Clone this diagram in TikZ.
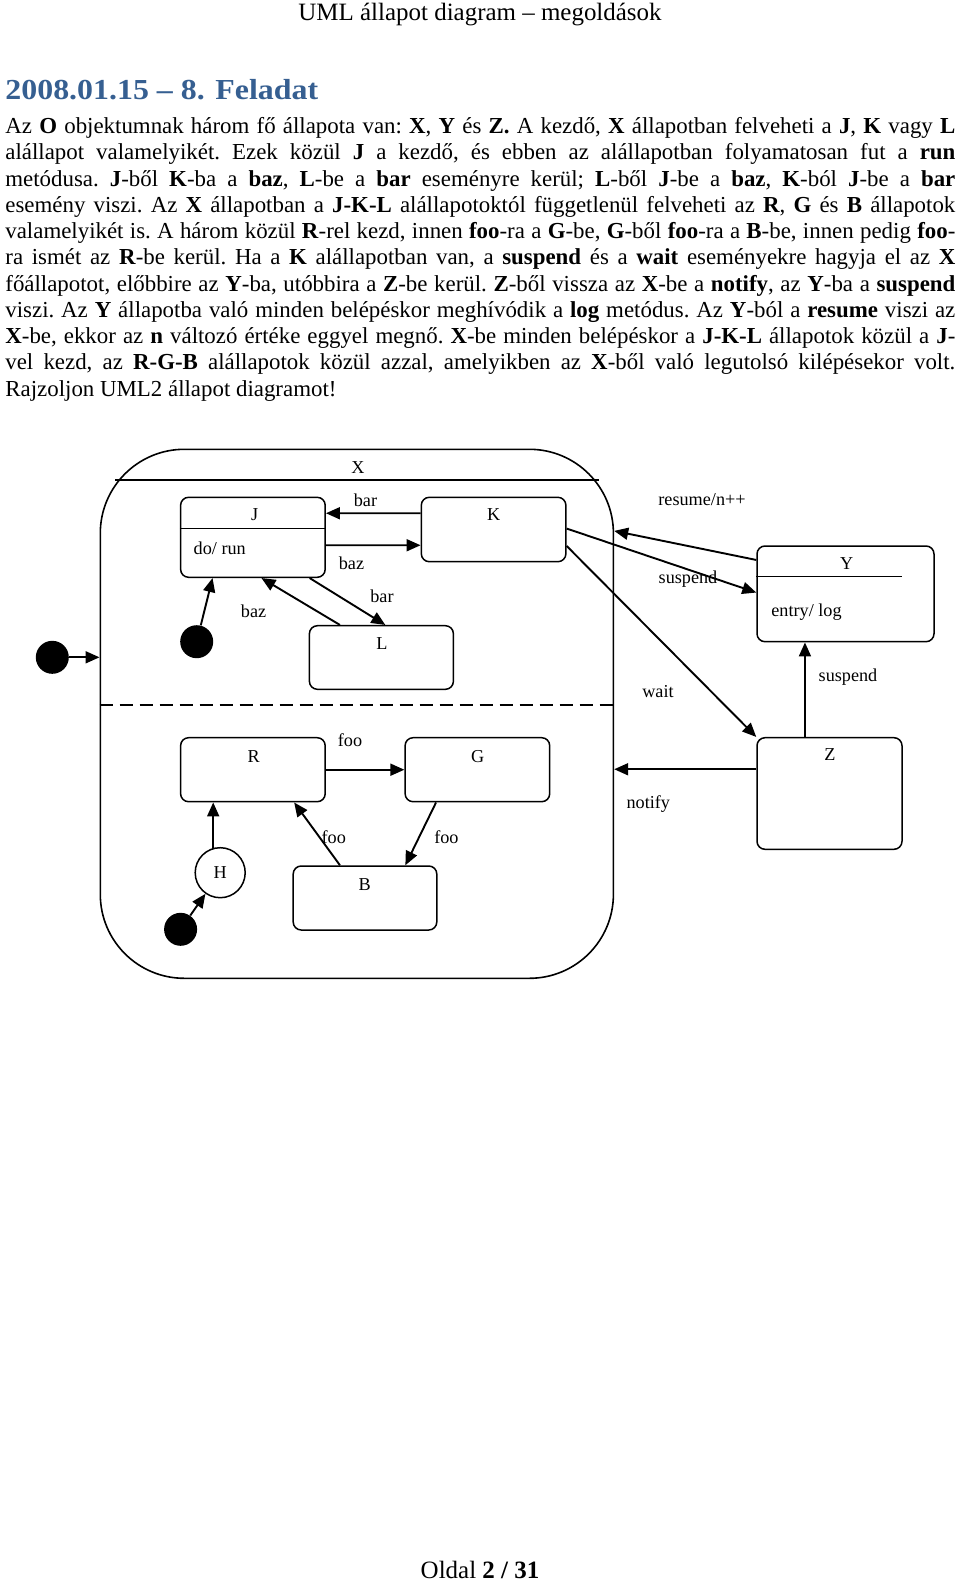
\documentclass[tikz,border=0pt]{standalone}
\usepackage{fontspec}
\setmainfont{Liberation Serif}
\newfontfamily\headfont{Liberation Serif}[FakeStretch=1.1]
\usetikzlibrary{arrows.meta,calc}
\definecolor{headblue}{RGB}{54,95,145}
\begin{document}
\begin{tikzpicture}[x=0.5pt,y=-0.5pt,
  st/.style={draw, line width=0.75pt, rounded corners=4pt, inner sep=0pt},
  lbl/.style={font=\fontsize{9.1}{10}\selectfont, inner sep=0pt},
  arr/.style={line width=0.95pt, -{Triangle[length=7pt,width=6pt]}},
  initdot/.style={circle, fill=black, inner sep=0pt, minimum size=16.5pt},
  divline/.style={line width=0.75pt}]
\useasboundingbox (0,0) rectangle (960,1584);

% page texts
\node[anchor=base, inner sep=0pt, font=\fontsize{12.48}{14}\selectfont] (hdr) at (480,20.5) {UML állapot diagram – megoldások};
\node[anchor=base west, inner sep=0pt, font=\headfont\bfseries\fontsize{14.5}{16}\selectfont, text=headblue] (h1) at (5,99.5) {2008.01.15 – 8. Feladat};
\node[anchor=base west, inner sep=0pt] (body) at (5,133.5) {\parbox[t]{475pt}{\fontsize{11.44}{13.13}\selectfont\frenchspacing\hyphenpenalty=10000\exhyphenpenalty=10000\tolerance=9999
Az \textbf{O} objektumnak három fő állapota van: \textbf{X}, \textbf{Y} és \textbf{Z.} A kezdő, \textbf{X} állapotban felveheti a \textbf{J}, \textbf{K} vagy \textbf{L}\linebreak
alállapot valamelyikét. Ezek közül \textbf{J} a kezdő, és ebben az alállapotban folyamatosan fut a \textbf{run}\linebreak
metódusa. \textbf{J}-ből \textbf{K}-ba a \textbf{baz}, \textbf{L}-be a \textbf{bar} eseményre kerül; \textbf{L}-ből \textbf{J}-be a \textbf{baz}, \textbf{K}-ból \textbf{J}-be a \textbf{bar}\linebreak
esemény viszi. Az \textbf{X} állapotban a \textbf{J-K-L} alállapotoktól függetlenül felveheti az \textbf{R}, \textbf{G} és \textbf{B} állapotok\linebreak
valamelyikét is. A három közül \textbf{R}-rel kezd, innen \textbf{foo}-ra a \textbf{G}-be, \textbf{G}-ből \textbf{foo}-ra a \textbf{B}-be, innen pedig \textbf{foo}-\linebreak
ra ismét az \textbf{R}-be kerül. Ha a \textbf{K} alállapotban van, a \textbf{suspend} és a \textbf{wait} eseményekre hagyja el az \textbf{X}\linebreak
főállapotot, előbbire az \textbf{Y}-ba, utóbbira a \textbf{Z}-be kerül. \textbf{Z}-ből vissza az \textbf{X}-be a \textbf{notify}, az \textbf{Y}-ba a \textbf{suspend}\linebreak
viszi. Az \textbf{Y} állapotba való minden belépéskor meghívódik a \textbf{log} metódus. Az \textbf{Y}-ból a \textbf{resume} viszi az\linebreak
\textbf{X}-be, ekkor az \textbf{n} változó értéke eggyel megnő. \textbf{X}-be minden belépéskor a \textbf{J-K-L} állapotok közül a \textbf{J}-\linebreak
vel kezd, az \textbf{R-G-B} alállapotok közül azzal, amelyikben az \textbf{X}-ből való legutolsó kilépésekor volt.\linebreak
Rajzoljon UML2 állapot diagramot!}};
\node[anchor=base, inner sep=0pt, font=\fontsize{12.48}{14}\selectfont] (ftr) at (480,1578) {Oldal \textbf{2 / 31}};

% composite state X
\node[draw, line width=0.8pt, rounded corners=42pt, minimum width=256.55pt, minimum height=264.5pt, inner sep=0pt] (X) at (356.85,713.8) {};
\node[lbl] (Xname) at (357.9,467.3) {X};
\draw[line width=1pt] ($(X.north west)+(15.5,31.7)$) -- ($(X.north east)+(-15.4,31.7)$);
\draw[line width=1pt, dash pattern=on 6.5pt off 3.5pt] ($(X.north west)+(0,256.4)$) -- ($(X.north east)+(0,256.4)$);

% substates upper region
\node[st, minimum width=72.3pt, minimum height=40pt] (J) at (252.9,537.3) {};
\draw[divline] ($(J.north west)+(0,32)$) -- ($(J.north east)+(0,32)$);
\node[lbl] (Jname) at (254.6,515) {J};
\node[lbl, anchor=west] (Jdo) at (193.3,548.3) {do/ run};
\node[st, minimum width=72.3pt, minimum height=32.2pt] (K) at (493.6,529.5) {};
\node[lbl] (Kname) at (493.6,515) {K};
\node[st, minimum width=72pt, minimum height=31.8pt] (L) at (381.4,657.5) {};
\node[lbl] (Lname) at (382,644) {L};
\node[initdot] (i1) at (196.7,641.7) {};

% substates lower region
\node[st, minimum width=72.3pt, minimum height=32pt] (R) at (252.9,769.7) {};
\node[lbl] (Rname) at (253.6,756.7) {R};
\node[st, minimum width=72.3pt, minimum height=32pt] (G) at (477.4,769.7) {};
\node[lbl] (Gname) at (477.8,756.7) {G};
\node[st, minimum width=71.8pt, minimum height=32pt] (B) at (365,898) {};
\node[lbl] (Bname) at (364.7,885) {B};
\node[circle, draw, line width=0.75pt, minimum size=25pt, inner sep=0pt, font=\fontsize{9.1}{10}\selectfont] (H) at (220.2,872.7) {H};
\node[initdot] (i2) at (180.6,929.3) {};

% outer states
\node[initdot] (i0) at (52.3,657.3) {};
\node[st, minimum width=88.5pt, minimum height=47.85pt] (Y) at (845.5,593.85) {};
\draw[divline] ($(Y.north west)+(0,31.3)$) -- ($(Y.north west)+(145.7,31.3)$);
\node[lbl] (Yname) at (846.7,563.3) {Y};
\node[lbl, anchor=west] (Yentry) at (771,611.7) {entry/ log};
\node[st, minimum width=72.5pt, minimum height=55.8pt] (Z) at (829.5,793.5) {};
\node[lbl] (Zname) at (830,755) {Z};

% transitions
\draw[arr] (i0.east) -- (i0.east -| X.west);
\draw[arr] (i1) -- ($(J.south west)+(32.7,0)$);
\draw[arr] ($(K.north west)+(0,16.7)$) -- ($(J.north east)+(0,16.7)$);
\node[lbl] (lbar1) at (365.5,500) {bar};
\draw[arr] ($(J.north east)+(0,48.7)$) -- ($(K.north west)+(0,48.7)$);
\node[lbl] (lbaz1) at (351.5,563.3) {baz};
\draw[arr] ($(J.south west)+(129.8,0)$) -- ($(L.north west)+(76.7,0)$);
\node[lbl] (lbar2) at (382,596) {bar};
\draw[arr] ($(L.north west)+(31.3,0)$) -- ($(J.south west)+(81.6,0)$);
\node[lbl] (lbaz2) at (253.6,611.7) {baz};

\draw[arr] (R.east) -- (G.west);
\node[lbl] (lfoo1) at (350,740) {foo};
\draw[arr] ($(G.south west)+(31.7,0)$) -- ($(B.north west)+(112.9,0)$);
\node[lbl] (lfoo2) at (446.4,836.7) {foo};
\draw[arr] ($(B.north west)+(47.5,0)$) -- ($(R.south west)+(114.3,0)$);
\node[lbl] (lfoo3) at (333.8,836.7) {foo};
\coordinate (Htop) at ($(H.center)+(-7,-24)$);
\draw[arr] (Htop) -- (Htop |- R.south);
\draw[arr] (i2) -- (H);

\draw[arr] ($(Y.north west)+(0,14.7)$) -- ($(X.north east)+(0,82.4)$);
\node[lbl] (lres) at (702,500) {resume/n++};
\draw[arr] ($(K.north east)+(0,32)$) -- ($(Y.north west)+(0,47.3)$);
\node[lbl] (lsus1) at (688,579.3) {suspend};
\draw[arr] ($(K.north east)+(0,49.4)$) -- (Z.north west);
\node[lbl] (lwait) at (658,691.7) {wait};
\draw[arr] ($(Z.north west)+(48.7,0)$) -- ($(Y.south west)+(48.7,0)$);
\node[lbl] (lsus2) at (848,676.7) {suspend};
\coordinate (nz) at ($(Z.north west)+(0,32.3)$);
\draw[arr] (nz) -- (nz -| X.east);
\node[lbl] (lnot) at (648.3,804) {notify};
\end{tikzpicture}
\end{document}
